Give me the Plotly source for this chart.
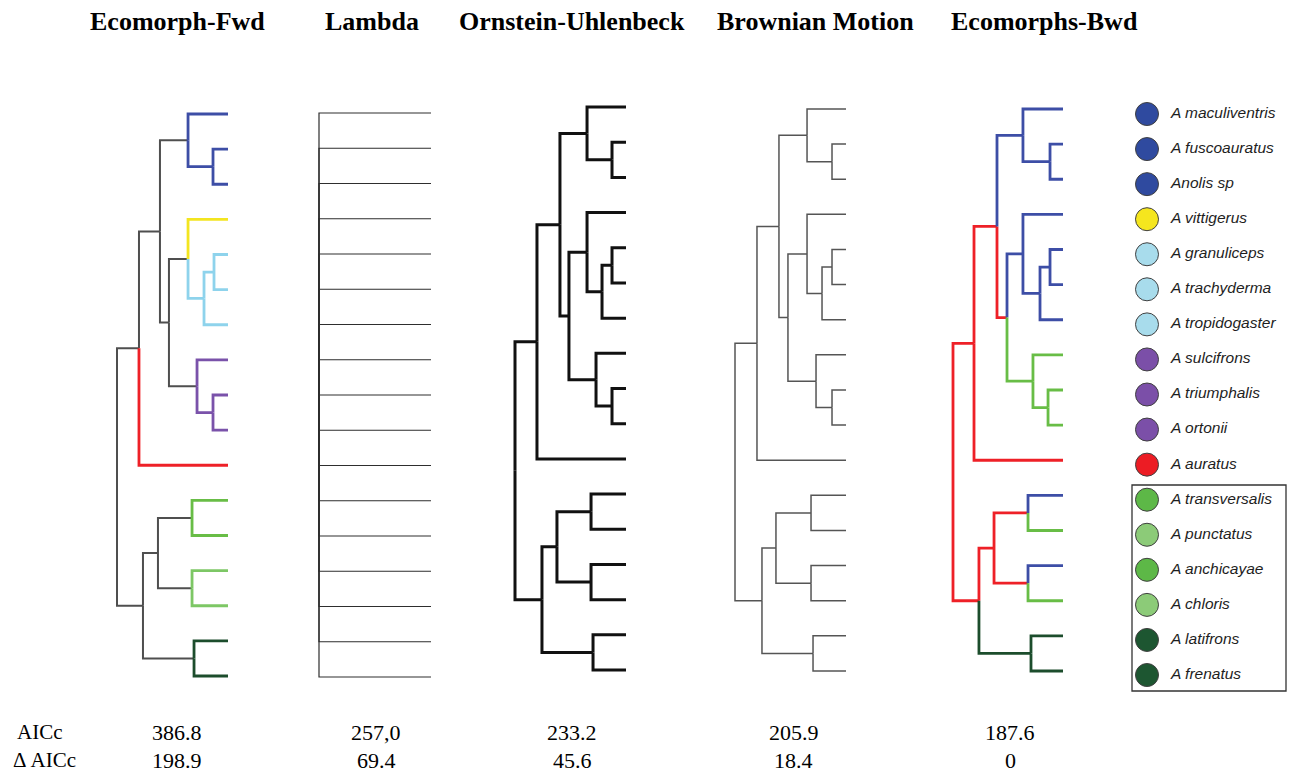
import plotly.graph_objects as go

# ---------------- data ----------------
species = ["A maculiventris", "A fuscoauratus", "Anolis sp", "A vittigerus",
           "A granuliceps", "A trachyderma", "A tropidogaster", "A sulcifrons",
           "A triumphalis", "A ortonii", "A auratus", "A transversalis",
           "A punctatus", "A anchicayae", "A chloris", "A latifrons", "A frenatus"]
ecomorph = ["blue", "blue", "blue", "yellow", "lightblue", "lightblue", "lightblue",
            "purple", "purple", "purple", "red", "green", "lightgreen", "green",
            "lightgreen", "darkgreen", "darkgreen"]

model_titles = ["Ecomorph-Fwd", "Lambda", "Ornstein-Uhlenbeck", "Brownian Motion", "Ecomorphs-Bwd"]
aicc = ["386.8", "257,0", "233.2", "205.9", "187.6"]
delta_aicc = ["198.9", "69.4", "45.6", "18.4", "0"]

# topology (tips are species indices)
topology = {
    "root": ("n_core", "n_bottom"),
    "n_core": ("n_abc", 10),
    "n_abc": ("n_a", "n_bc"),
    "n_a": (0, "n_23"),
    "n_23": (1, 2),
    "n_bc": ("n_b", "n_c"),
    "n_b": (3, "n_567"),
    "n_567": ("n_56", 6),
    "n_56": (4, 5),
    "n_c": (7, "n_910"),
    "n_910": (8, 9),
    "n_bottom": ("n_1215", "n_1617"),
    "n_1215": ("n_1213", "n_1415"),
    "n_1213": (11, 12),
    "n_1415": (13, 14),
    "n_1617": (15, 16),
}
star_topology = {"root": tuple(range(17))}

# node depths (root = 0, tips = 100)
depth_fwd = {"root": 0, "n_core": 19.8, "n_abc": 38.7, "n_a": 64.0, "n_23": 86.5,
             "n_bc": 46.8, "n_b": 64.0, "n_567": 78.4, "n_56": 87.4, "n_c": 72.1,
             "n_910": 86.5, "n_bottom": 23.4, "n_1215": 36.9, "n_1213": 67.6,
             "n_1415": 67.6, "n_1617": 69.4}
depth_lambda = {"root": 0}
depth_ou = {"root": 0, "n_core": 19.8, "n_abc": 40.5, "n_a": 64.9, "n_23": 87.4,
            "n_bc": 48.6, "n_b": 64.9, "n_567": 78.4, "n_56": 87.4, "n_c": 73.0,
            "n_910": 87.4, "n_bottom": 24.3, "n_1215": 37.8, "n_1213": 68.5,
            "n_1415": 68.5, "n_1617": 70.3}
depth_bm = {"root": 0, "n_core": 19.8, "n_abc": 39.6, "n_a": 64.9, "n_23": 87.4,
            "n_bc": 47.7, "n_b": 64.9, "n_567": 78.4, "n_56": 87.4, "n_c": 73.0,
            "n_910": 87.4, "n_bottom": 24.3, "n_1215": 36.9, "n_1213": 68.5,
            "n_1415": 68.5, "n_1617": 70.3}
depth_bwd = {"root": 0, "n_core": 19.1, "n_abc": 40.0, "n_a": 63.6, "n_23": 88.2,
             "n_bc": 49.1, "n_b": 63.6, "n_567": 79.1, "n_56": 88.2, "n_c": 72.7,
             "n_910": 86.4, "n_bottom": 23.6, "n_1215": 37.3, "n_1213": 68.2,
             "n_1415": 68.2, "n_1617": 70.9}

# branch regimes (edge above each node)
regime_fwd = {0: "blue", 1: "blue", 2: "blue", "n_23": "blue", 3: "yellow",
              "n_567": "lightblue", "n_56": "lightblue", 4: "lightblue", 5: "lightblue",
              6: "lightblue", 7: "purple", 8: "purple", 9: "purple", "n_910": "purple",
              10: "red", 11: "green", 12: "green", 13: "lightgreen2", 14: "lightgreen2",
              15: "darkgreen", 16: "darkgreen"}
regime_bwd = {"n_a": "blue", 0: "blue", 1: "blue", 2: "blue", "n_23": "blue",
              "n_b": "blue", 3: "blue", "n_567": "blue", "n_56": "blue", 4: "blue",
              5: "blue", 6: "blue", "n_c": "green", 7: "green", "n_910": "green",
              8: "green", 9: "green", 11: "blue", 12: "green", 13: "blue", 14: "green",
              "n_1617": "darkgreen", 15: "darkgreen", 16: "darkgreen"}

# ---------------- styles ----------------
W, H = 1291, 774
palette = {"blue": "#3D4EA6", "yellow": "#F3E520", "lightblue": "#8ED3EC",
           "purple": "#7A52AA", "red": "#EE2027", "green": "#68BD46",
           "lightgreen2": "#7DC765", "darkgreen": "#1C4D2C"}
legend_fill = {"blue": "#2F4A9F", "yellow": "#F5E61E", "lightblue": "#A8DCEC",
               "purple": "#7B4FA8", "red": "#EC1C24", "green": "#5DB847",
               "lightgreen": "#8CCB78", "darkgreen": "#1D5631"}

trees = [
    dict(topo=topology, depth=depth_fwd, regime=regime_fwd, base="#4f4f4f",
         x0=117, x1=228, y0=114, y1=676, lw=2.0, clw=2.8),
    dict(topo=star_topology, depth=depth_lambda, regime={}, base="#2e2e2e",
         x0=319, x1=431, y0=113, y1=677, lw=1.2, clw=1.2),
    dict(topo=topology, depth=depth_ou, regime={}, base="#111111",
         x0=515, x1=626, y0=107, y1=670, lw=3.0, clw=3.0),
    dict(topo=topology, depth=depth_bm, regime={}, base="#555555",
         x0=735, x1=846, y0=109, y1=671, lw=1.5, clw=1.5),
    dict(topo=topology, depth=depth_bwd, regime=regime_bwd, base=palette["red"],
         x0=953, x1=1063, y0=109, y1=671, lw=2.8, clw=2.8),
]

fig = go.Figure()
PAD = 6


def axis_map(p0, p1, v0, v1, pad, size, flip=False):
    s = (v1 - v0) / (p1 - p0)
    lo, hi = p0 - pad, p1 + pad
    rng = [v0 - pad * s, v1 + pad * s]
    if flip:
        return [1 - hi / size, 1 - lo / size], [rng[1], rng[0]]
    return [lo / size, hi / size], rng


for k, t in enumerate(trees, start=1):
    topo, depth, regime = t["topo"], t["depth"], t["regime"]
    ypos = {}

    def node_y(n):
        if isinstance(n, int):
            ypos[n] = n + 1
        else:
            ch = [node_y(c) for c in topo[n]]
            ypos[n] = (ch[0] + ch[-1]) / 2
        return ypos[n]

    node_y("root")

    def d(n):
        return 100 if isinstance(n, int) else depth[n]

    segs = {}
    for parent, kids in topo.items():
        for c in kids:
            key = regime.get(c, "base")
            xs, ys = segs.setdefault(key, ([], []))
            xs += [d(parent), d(parent), d(c), None]
            ys += [ypos[parent], ypos[c], ypos[c], None]

    xa = "x" if k == 1 else f"x{k}"
    ya = "y" if k == 1 else f"y{k}"
    order = ["base"] + [key for key in segs if key != "base"]
    for key in order:
        if key not in segs:
            continue
        xs, ys = segs[key]
        col = t["base"] if key == "base" else palette[key]
        w = t["lw"] if key == "base" else t["clw"]
        fig.add_trace(go.Scatter(x=xs, y=ys, mode="lines", xaxis=xa, yaxis=ya,
                                 line=dict(color=col, width=w, shape="linear"),
                                 hoverinfo="skip", showlegend=False))
    xd, xr = axis_map(t["x0"], t["x1"], 0, 100, PAD, W)
    yd, yr = axis_map(t["y0"], t["y1"], 1, 17, PAD, H, flip=True)
    fig.layout[f"xaxis{'' if k == 1 else k}"] = dict(domain=xd, range=xr, visible=False,
                                                     anchor=ya)
    fig.layout[f"yaxis{'' if k == 1 else k}"] = dict(domain=yd, range=yr, visible=False,
                                                     anchor=xa)

# legend column
tip_idx = list(range(1, 18))
fig.add_trace(go.Scatter(
    x=[0] * 17, y=tip_idx, mode="markers", xaxis="x6", yaxis="y6",
    marker=dict(size=23, color=[legend_fill[e] for e in ecomorph],
                line=dict(color="#404040", width=1)),
    hoverinfo="skip", showlegend=False, cliponaxis=False))
fig.add_trace(go.Scatter(
    x=[24] * 17, y=tip_idx, mode="text", xaxis="x6", yaxis="y6",
    text=[f"<i>{s}</i>" for s in species], textposition="middle right",
    textfont=dict(family="Liberation Sans, Arial", size=15.5, color="#1e1e1e"),
    hoverinfo="skip", showlegend=False, cliponaxis=False))
xd, xr = axis_map(1147, 1171, 0, 24, 0, W)
yd, yr = axis_map(114, 675, 1, 17, 20, H, flip=True)
fig.layout["xaxis6"] = dict(domain=xd, range=xr, visible=False, anchor="y6")
fig.layout["yaxis6"] = dict(domain=yd, range=yr, visible=False, anchor="x6")

fig.add_shape(type="rect", xref="paper", yref="paper",
              x0=1132 / W, x1=1286 / W, y0=1 - 691 / H, y1=1 - 485 / H,
              line=dict(color="#333333", width=1.3))

# titles and AICc rows
title_x = [177, 372, 572, 815, 1044]
value_x = [177, 376, 572, 794, 1010]
serif = "Liberation Serif, Times New Roman, serif"
for tx, vx, title, a, da in zip(title_x, value_x, model_titles, aicc, delta_aicc):
    fig.add_annotation(x=tx / W, y=1 - 21 / H, xref="paper", yref="paper",
                       text=f"<b>{title}</b>", showarrow=False, xanchor="center",
                       yanchor="middle", font=dict(family=serif, size=26, color="#000"))
    fig.add_annotation(x=vx / W, y=1 - 732 / H, xref="paper", yref="paper",
                       text=a, showarrow=False, xanchor="center", yanchor="middle",
                       font=dict(family=serif, size=22, color="#000"))
    fig.add_annotation(x=vx / W, y=1 - 760 / H, xref="paper", yref="paper",
                       text=da, showarrow=False, xanchor="center", yanchor="middle",
                       font=dict(family=serif, size=22, color="#000"))
fig.add_annotation(x=40 / W, y=1 - 732 / H, xref="paper", yref="paper", text="AICc",
                   showarrow=False, xanchor="center", yanchor="middle",
                   font=dict(family=serif, size=21, color="#000"))
fig.add_annotation(x=44 / W, y=1 - 760 / H, xref="paper", yref="paper", text="Δ AICc",
                   showarrow=False, xanchor="center", yanchor="middle",
                   font=dict(family=serif, size=21, color="#000"))

fig.update_layout(width=W, height=H, margin=dict(l=0, r=0, t=0, b=0),
                  paper_bgcolor="white", plot_bgcolor="white", showlegend=False)

fig.write_html("out.html", config={"displayModeBar": False},
               post_script="document.body.style.margin='0';")
